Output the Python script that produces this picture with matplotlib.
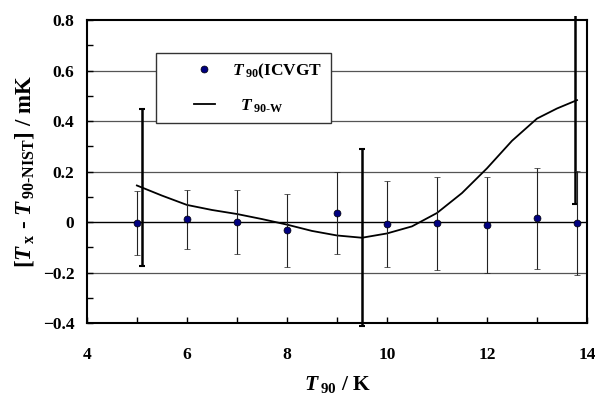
import numpy as np
import matplotlib
matplotlib.use("Agg")
import matplotlib.pyplot as plt
from matplotlib.lines import Line2D
from matplotlib.patches import Rectangle
from matplotlib.ticker import MultipleLocator, FuncFormatter

plt.rcParams["font.family"] = ["Liberation Serif", "DejaVu Serif"]
plt.rcParams["font.weight"] = "bold"
plt.rcParams["axes.labelweight"] = "bold"
plt.rcParams["mathtext.fontset"] = "custom"
plt.rcParams["mathtext.rm"] = "Liberation Serif:bold"
plt.rcParams["mathtext.it"] = "Liberation Serif:bold:italic"
plt.rcParams["mathtext.bf"] = "Liberation Serif:bold"

# T90(ICVGT) - T90(NIST) differences with uncertainties
icvgt_T = [5.0, 6.0, 7.0, 8.0, 9.0, 10.0, 11.0, 12.0, 13.0, 13.8]
icvgt_dT = [-0.005, 0.011, 0.0, -0.032, 0.037, -0.008, -0.004, -0.013, 0.015, -0.004]
icvgt_err = [0.127, 0.118, 0.127, 0.145, 0.163, 0.170, 0.184, 0.190, 0.201, 0.207]

# T90-W curve
w_T = [5.0, 5.5, 6.0, 6.5, 7.0, 7.5, 8.0, 8.5, 9.0, 9.5, 10.0, 10.5,
       11.0, 11.5, 12.0, 12.5, 13.0, 13.4, 13.8]
w_dT = [0.145, 0.105, 0.068, 0.048, 0.032, 0.012, -0.010, -0.035, -0.053,
        -0.062, -0.045, -0.017, 0.036, 0.115, 0.213, 0.322, 0.410, 0.450, 0.483]

# uncertainty of the T90-W curve at three temperatures
w_err_T = [5.1, 9.5, 13.76]
w_err_dT = [0.136, -0.060, 0.480]
w_err = [0.31, 0.35, 0.41]

fig = plt.figure(figsize=(5.95, 3.94), dpi=100)
ax = fig.add_axes([0.146, 0.180, 0.8406, 0.769])

ax.set_xlim(4, 14)
ax.set_ylim(-0.4, 0.8)

for g in [-0.2, 0.2, 0.4, 0.6]:
    ax.axhline(g, color="#555555", lw=0.9, zorder=1)
ax.axhline(0, color="black", lw=1.0, zorder=1)

ax.plot(w_T, w_dT, color="black", lw=1.3, zorder=3)

big = ax.errorbar(w_err_T, w_err_dT, yerr=w_err, fmt="none", ecolor="black",
                  elinewidth=1.8, capsize=2.5, capthick=1.5, zorder=4)
clip = Rectangle((0, -0.1), 1, 1.113, transform=ax.transAxes, visible=False)
ax.add_patch(clip)
for art in list(big.lines[1]) + list(big.lines[2]):
    art.set_clip_path(clip)

ax.errorbar(icvgt_T, icvgt_dT, yerr=icvgt_err, fmt="o", color="#000080",
            mec="black", mew=0.5, ms=5, ecolor="#222222", elinewidth=0.8,
            capsize=2, capthick=0.8, zorder=5)

ax.xaxis.set_major_locator(MultipleLocator(2))
ax.xaxis.set_minor_locator(MultipleLocator(1))
ax.yaxis.set_major_locator(MultipleLocator(0.2))
ax.yaxis.set_minor_locator(MultipleLocator(0.1))


def fmt(v, pos):
    if abs(v) < 1e-9:
        return "0"
    return f"{v:.1f}".replace("-", "\u2212")


ax.yaxis.set_major_formatter(FuncFormatter(fmt))
ax.tick_params(which="both", direction="in", length=4, width=1, labelsize=12.5)
ax.tick_params(axis="x", pad=17)
ax.tick_params(axis="y", pad=9)
for s in ax.spines.values():
    s.set_linewidth(1.5)

ax.set_xlabel(r"$T\,_{\rm 90}$ / K", fontsize=15.5, labelpad=8)
ax.set_ylabel(r"[$T\,_{\rm x}$ - $T\,_{\rm 90\text{-}NIST}$] / mK", fontsize=16.5,
              labelpad=5)

# legend box
ax.add_patch(Rectangle((0.139, 0.659), 0.35, 0.231, transform=ax.transAxes,
                       facecolor="white", edgecolor="#333333", lw=1.0, zorder=6))
handles = [
    Line2D([], [], ls="none", marker="o", color="#000080", mec="black",
           mew=0.5, ms=5),
    Line2D([], [], color="black", lw=1.3),
]
labels = [r"$T\,_{\rm 90}$(ICVGT", r"  $T\,_{\rm 90\text{-}W}$"]
leg = ax.legend(handles, labels, loc="center left",
                bbox_to_anchor=(0.214, 0.7756), frameon=False, fontsize=12.5,
                handlelength=1.2, handletextpad=1.0, labelspacing=0.95,
                borderpad=0, borderaxespad=0)
leg.set_zorder(7)

fig.savefig("out.png", dpi=100)
